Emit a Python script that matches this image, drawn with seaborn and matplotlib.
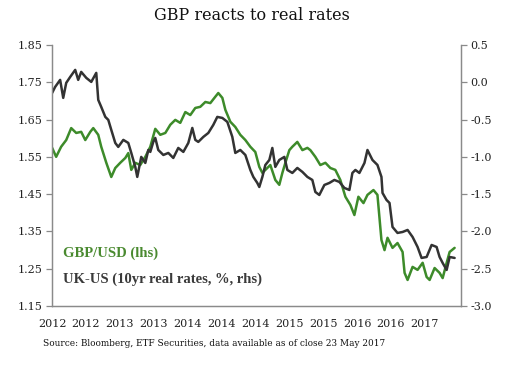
import pandas as pd
import numpy as np
import matplotlib
matplotlib.use('Agg')
import matplotlib.pyplot as plt
import matplotlib.dates as mdates
import seaborn as sns

# dates are kept as decimal years
gbp_t = [2012.540, 2012.588, 2012.648, 2012.709, 2012.769, 2012.829, 2012.889, 2012.938,
         2012.998, 2013.034, 2013.094, 2013.130, 2013.191, 2013.251, 2013.299, 2013.359,
         2013.420, 2013.456, 2013.492, 2013.540, 2013.600, 2013.661, 2013.721, 2013.781,
         2013.841, 2013.902, 2013.962, 2014.022, 2014.082, 2014.143, 2014.203, 2014.263,
         2014.323, 2014.384, 2014.444, 2014.504, 2014.540, 2014.589, 2014.625, 2014.685,
         2014.745, 2014.805, 2014.866, 2014.926, 2014.986, 2015.034, 2015.071, 2015.107,
         2015.167, 2015.227, 2015.275, 2015.312, 2015.348, 2015.396, 2015.432, 2015.492,
         2015.553, 2015.613, 2015.649, 2015.709, 2015.769, 2015.830, 2015.890, 2015.950,
         2016.010, 2016.071, 2016.131, 2016.179, 2016.227, 2016.288, 2016.336, 2016.408,
         2016.456, 2016.504, 2016.541, 2016.577, 2016.637, 2016.697, 2016.758, 2016.782,
         2016.818, 2016.878, 2016.938, 2016.999, 2017.047, 2017.083, 2017.143, 2017.203,
         2017.240, 2017.288, 2017.324, 2017.384]
gbp_usd = [1.574, 1.550, 1.577, 1.595, 1.627, 1.614, 1.617, 1.595,
           1.617, 1.627, 1.609, 1.577, 1.534, 1.496, 1.520, 1.534,
           1.547, 1.560, 1.515, 1.534, 1.528, 1.550, 1.577, 1.625,
           1.609, 1.614, 1.636, 1.649, 1.641, 1.670, 1.662, 1.681,
           1.684, 1.697, 1.694, 1.711, 1.721, 1.708, 1.676, 1.644,
           1.630, 1.609, 1.595, 1.577, 1.563, 1.523, 1.507, 1.515,
           1.528, 1.488, 1.475, 1.507, 1.534, 1.568, 1.577, 1.590,
           1.568, 1.574, 1.568, 1.550, 1.528, 1.534, 1.520, 1.515,
           1.488, 1.443, 1.421, 1.394, 1.443, 1.426, 1.448, 1.461,
           1.448, 1.327, 1.300, 1.333, 1.306, 1.319, 1.295, 1.239,
           1.220, 1.255, 1.247, 1.266, 1.228, 1.220, 1.252, 1.239,
           1.225, 1.266, 1.295, 1.306]

rr_t = [2012.540, 2012.576, 2012.636, 2012.673, 2012.709, 2012.757, 2012.817, 2012.853,
        2012.889, 2012.950, 2013.010, 2013.070, 2013.094, 2013.130, 2013.179, 2013.215,
        2013.251, 2013.299, 2013.335, 2013.396, 2013.456, 2013.492, 2013.540, 2013.564,
        2013.612, 2013.661, 2013.697, 2013.721, 2013.757, 2013.781, 2013.817, 2013.878,
        2013.938, 2013.998, 2014.058, 2014.119, 2014.179, 2014.227, 2014.263, 2014.299,
        2014.360, 2014.420, 2014.480, 2014.528, 2014.589, 2014.649, 2014.709, 2014.745,
        2014.805, 2014.866, 2014.926, 2014.962, 2015.010, 2015.034, 2015.071, 2015.107,
        2015.155, 2015.191, 2015.227, 2015.275, 2015.336, 2015.372, 2015.432, 2015.492,
        2015.553, 2015.613, 2015.673, 2015.709, 2015.757, 2015.818, 2015.878, 2015.938,
        2015.998, 2016.059, 2016.119, 2016.155, 2016.191, 2016.239, 2016.300, 2016.336,
        2016.396, 2016.456, 2016.504, 2016.517, 2016.565, 2016.601, 2016.637, 2016.697,
        2016.758, 2016.818, 2016.878, 2016.938, 2016.986, 2017.047, 2017.107, 2017.167,
        2017.203, 2017.240, 2017.288, 2017.324, 2017.384]
real_rate_diff = [-0.143, -0.063, 0.031, -0.210, -0.009, 0.071, 0.165, 0.031,
                  0.138, 0.058, 0.004, 0.125, -0.237, -0.331, -0.465, -0.505,
                  -0.639, -0.814, -0.867, -0.773, -0.814, -0.948, -1.135, -1.269,
                  -1.001, -1.082, -0.908, -0.934, -0.800, -0.747, -0.908, -0.975,
                  -0.948, -1.015, -0.881, -0.934, -0.814, -0.613, -0.773, -0.800,
                  -0.733, -0.680, -0.572, -0.465, -0.479, -0.532, -0.733, -0.948,
                  -0.908, -0.975, -1.176, -1.269, -1.350, -1.404, -1.269, -1.109,
                  -1.042, -0.881, -1.135, -1.042, -1.001, -1.176, -1.216, -1.149,
                  -1.202, -1.269, -1.310, -1.471, -1.511, -1.377, -1.350, -1.310,
                  -1.336, -1.417, -1.444, -1.216, -1.176, -1.216, -1.082, -0.908,
                  -1.042, -1.109, -1.269, -1.484, -1.578, -1.618, -1.940, -2.020,
                  -2.007, -1.980, -2.074, -2.208, -2.355, -2.342, -2.181, -2.208,
                  -2.342, -2.422, -2.516, -2.342, -2.355]

left_ticks = [1.15, 1.25, 1.35, 1.45, 1.55, 1.65, 1.75, 1.85]
right_ticks = [-3.0, -2.5, -2.0, -1.5, -1.0, -0.5, 0.0, 0.5]


def to_date(t):
    y = int(t)
    start = pd.Timestamp(year=y, month=1, day=1)
    span = pd.Timestamp(year=y + 1, month=1, day=1) - start
    return start + (t - y) * span


GREEN = '#3d8b2a'
DARK = '#333333'
GREY = '#8a8a8a'

sns.set_theme(style='white')
plt.rcParams['font.family'] = ['DejaVu Serif']

fig, ax = plt.subplots(figsize=(5.28, 3.71), dpi=100)
fig.subplots_adjust(left=0.0985, right=0.873, top=0.879, bottom=0.175)

gbp = pd.DataFrame({'date': [to_date(t) for t in gbp_t], 'value': gbp_usd})
rr = pd.DataFrame({'date': [to_date(t) for t in rr_t], 'value': real_rate_diff})

sns.lineplot(data=gbp, x='date', y='value', ax=ax, color=GREEN, lw=1.8, sort=False)
ax2 = ax.twinx()
sns.lineplot(data=rr, x='date', y='value', ax=ax2, color=DARK, lw=1.8, sort=False)

start = pd.Timestamp('2012-07-16')
ax.set_xlim(start, start + pd.Timedelta(days=1798))
ticks = [start + pd.Timedelta(days=149 * i) for i in range(12)]
ax.set_xticks(ticks)
ax.xaxis.set_major_formatter(mdates.DateFormatter('%Y'))

ax.set_ylim(1.15, 1.85)
ax.set_yticks(left_ticks)
ax.set_yticklabels([f'{v:.2f}' for v in left_ticks])
ax2.set_ylim(-3.0, 0.5)
ax2.set_yticks(right_ticks)
ax2.set_yticklabels([f'{v:.1f}' for v in right_ticks])

for a in (ax, ax2):
    a.set_xlabel('')
    a.set_ylabel('')
    a.spines['top'].set_visible(False)
    for s in ('left', 'right', 'bottom'):
        a.spines[s].set_color(GREY)
        a.spines[s].set_linewidth(0.9)
    a.tick_params(direction='out', length=4, width=0.9, color=GREY,
                  labelsize=8, labelcolor='#222222', pad=3)
ax.tick_params(axis='x', pad=5)

ax.text(0.027, 0.203, 'GBP/USD (lhs)', transform=ax.transAxes, color='#4a8a30',
        fontsize=10.5, fontweight='bold', family=['Liberation Serif'],
        va='center', ha='left')
ax.text(0.027, 0.103, 'UK-US (10yr real rates, %, rhs)', transform=ax.transAxes,
        color='#3a3a3a', fontsize=10.5, fontweight='bold', family=['Liberation Serif'],
        va='center', ha='left')

fig.text(0.478, 1 - 15 / 371, 'GBP reacts to real rates', ha='center', va='center',
         fontsize=11.5, color='#111111')
fig.text(0.081, 1 - 343 / 371,
         'Source: Bloomberg, ETF Securities, data available as of close 23 May 2017',
         ha='left', va='center', fontsize=6.4, color='#111111')

plt.savefig('out.png', dpi=100)
